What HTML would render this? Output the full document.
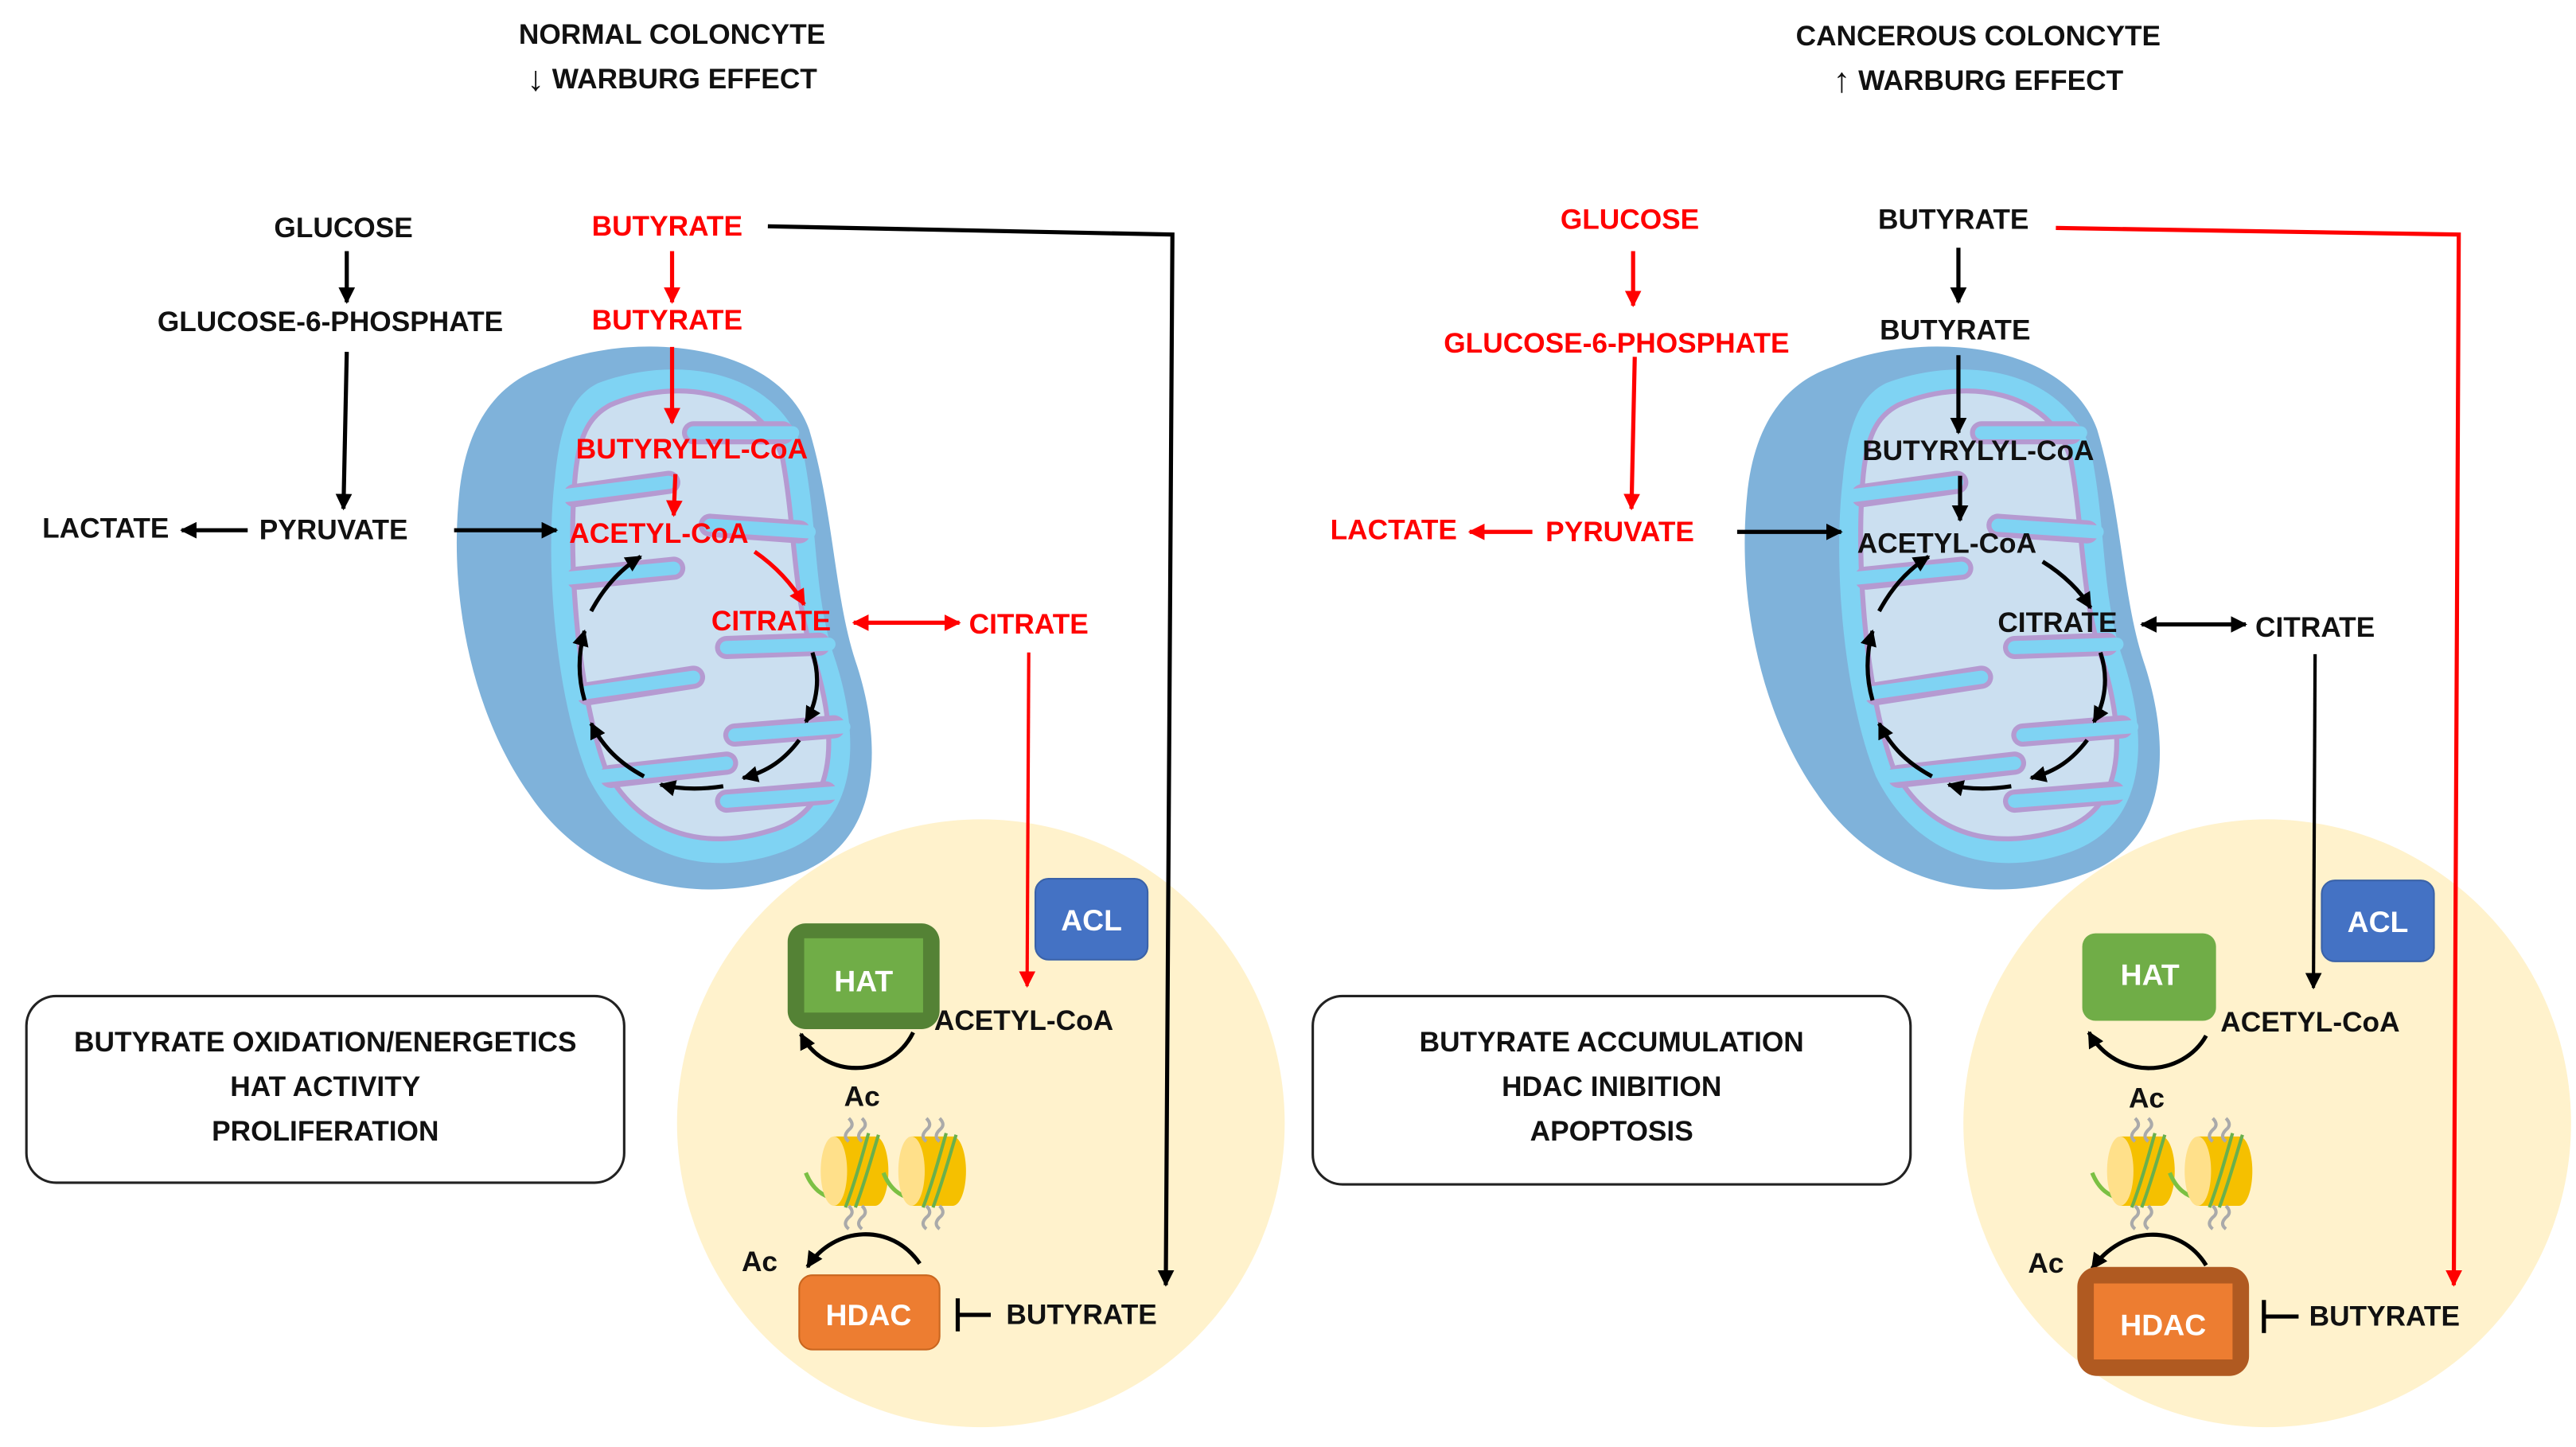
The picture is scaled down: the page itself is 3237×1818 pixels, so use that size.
<!DOCTYPE html>
<html><head><meta charset="utf-8"><style>
html,body{margin:0;padding:0;background:#fff;}
svg{display:block;}
text{font-family:"Liberation Sans",sans-serif;font-weight:bold;font-size:17px;text-anchor:middle;dominant-baseline:central;}
.r{fill:#ff0000;}
.k{fill:#111;}
.w{fill:#fff;font-size:18px;}
</style></head><body>
<svg width="3237" height="1818" viewBox="0 0 1560 876" preserveAspectRatio="none" xmlns="http://www.w3.org/2000/svg">
<defs>
<marker id="ak" viewBox="0 0 10 10" refX="9" refY="5" markerWidth="10" markerHeight="10" markerUnits="userSpaceOnUse" orient="auto-start-reverse"><path d="M0,0 L10,5 L0,10 Z" fill="#000"/></marker>
<marker id="ar" viewBox="0 0 10 10" refX="9" refY="5" markerWidth="10" markerHeight="10" markerUnits="userSpaceOnUse" orient="auto-start-reverse"><path d="M0,0 L10,5 L0,10 Z" fill="#f00"/></marker>
<g id="mito">
<path d="M330 222 C380 200,470 205,490 260 C505 310,505 360,518 400 C535 450,535 512,480 530 C430 548,360 540,320 480 C285 430,272 360,278 300 C282 258,300 232,330 222 Z" fill="#7fb2da"/>
<path d="M362 232 C410 214,470 224,486 272 C496 320,492 360,506 400 C522 450,520 502,470 517 C430 530,382 522,356 470 C336 420,330 340,336 290 C339 258,346 240,362 232 Z" fill="#7fd3f3"/>
<path d="M370 245 C410 228,462 236,474 278 C482 322,480 362,494 402 C508 450,506 492,466 503 C430 514,390 508,367 466 C350 420,344 342,348 292 C350 265,356 252,370 245 Z" fill="#cbdff0" stroke="#b59ad1" stroke-width="3"/>
<g fill="none" stroke-linecap="round">
<g stroke="#b59ad1" stroke-width="14">
<path d="M474 262 L420 262"/><path d="M348 300 L405 292"/><path d="M484 322 L430 318"/><path d="M350 350 L408 344"/><path d="M496 390 L440 392"/><path d="M356 420 L420 410"/><path d="M505 440 L445 445"/><path d="M370 470 L440 462"/><path d="M500 480 L440 485"/>
</g>
<g stroke="#7fd3f3" stroke-width="8">
<path d="M480 262 L420 262"/><path d="M342 300 L405 292"/><path d="M490 322 L430 318"/><path d="M344 350 L408 344"/><path d="M502 390 L440 392"/><path d="M350 420 L420 410"/><path d="M511 440 L445 445"/><path d="M364 470 L440 462"/><path d="M506 480 L440 485"/>
</g>
</g>
<g fill="none" stroke="#000" stroke-width="2.5" marker-end="url(#ak)">
<path d="M492 395 C497 410,495 425,488 437"/>
<path d="M484 448 C475 460,465 467,450 471"/>
<path d="M438 476 C425 478,412 478,400 475"/>
<path d="M390 470 C375 462,365 452,358 438"/>
<path d="M354 424 C350 410,350 396,354 382"/>
<path d="M358 370 C365 357,375 345,388 337"/>
</g>
</g>
<g id="nuc">
<path d="M488 710 C492 720,498 724,506 726" stroke="#7bc043" stroke-width="2.5" fill="none"/>
<path d="M505 688 L530 688 A8 21 0 0 1 530 730 L505 730 Z" fill="#f5c000"/>
<ellipse cx="505" cy="709" rx="8" ry="21" fill="#ffe08a"/>
<path d="M512 731 C518 715,522 700,526 686 M518 731 C524 715,528 700,532 687" stroke="#6ab04c" stroke-width="2" fill="none"/>
<path d="M514 677 q4 4 0 7 q-4 4 0 7 M522 677 q4 4 0 7 q-4 4 0 7 M514 730 q4 4 0 7 q-4 4 0 7 M522 730 q4 4 0 7 q-4 4 0 7" stroke="#aaa" stroke-width="2" fill="none"/>
</g>
</defs>

<!-- LEFT PANEL -->
<text x="407" y="21" class="k">NORMAL COLONCYTE</text>
<text x="407" y="48" class="k"><tspan font-size="21">↓</tspan> WARBURG EFFECT</text>

<circle cx="594" cy="680" r="184" fill="#fff2cc"/>
<use href="#mito"/>

<text x="208" y="138" class="k">GLUCOSE</text>
<line x1="210" y1="152" x2="210" y2="183" stroke="#000" stroke-width="2.5" marker-end="url(#ak)"/>
<text x="200" y="195" class="k">GLUCOSE-6-PHOSPHATE</text>
<line x1="210" y1="213" x2="208" y2="308" stroke="#000" stroke-width="2.5" marker-end="url(#ak)"/>
<text x="202" y="321" class="k">PYRUVATE</text>
<text x="64" y="320" class="k">LACTATE</text>
<line x1="150" y1="321" x2="110" y2="321" stroke="#000" stroke-width="2.5" marker-end="url(#ak)"/>
<line x1="275" y1="321" x2="337" y2="321" stroke="#000" stroke-width="2.5" marker-end="url(#ak)"/>

<text x="404" y="137" class="r">BUTYRATE</text>
<line x1="407" y1="152" x2="407" y2="183" stroke="#f00" stroke-width="2.5" marker-end="url(#ar)"/>
<text x="404" y="194" class="r">BUTYRATE</text>
<line x1="407" y1="210" x2="407" y2="256" stroke="#f00" stroke-width="2.5" marker-end="url(#ar)"/>
<text x="419" y="272" class="r">BUTYRYLYL-CoA</text>
<line x1="409" y1="287" x2="408" y2="312" stroke="#f00" stroke-width="2.5" marker-end="url(#ar)"/>
<text x="399" y="323" class="r">ACETYL-CoA</text>
<path d="M457 334 C470 343,480 354,487 366" stroke="#f00" stroke-width="2.5" fill="none" marker-end="url(#ar)"/>
<text x="467" y="376" class="r">CITRATE</text>
<line x1="517" y1="377" x2="581" y2="377" stroke="#f00" stroke-width="2.5" marker-start="url(#ar)" marker-end="url(#ar)"/>
<text x="623" y="378" class="r">CITRATE</text>
<line x1="623" y1="395" x2="622" y2="597" stroke="#f00" stroke-width="2" marker-end="url(#ar)"/>
<polyline points="465,137 710,142 706,778" fill="none" stroke="#000" stroke-width="2.5" marker-end="url(#ak)"/>

<rect x="627" y="532" width="68" height="49" rx="8" fill="#4472c4" stroke="#3a62a8" stroke-width="1"/>
<text x="661" y="557" class="w">ACL</text>
<rect x="477" y="559" width="92" height="64" rx="11" fill="#548235"/>
<rect x="487" y="568" width="72" height="45" fill="#70ad47"/>
<text x="523" y="594" class="w">HAT</text>
<text x="620" y="618" class="k">ACETYL-CoA</text>
<path d="M553 625 C540 652,500 655,485 626" stroke="#000" stroke-width="2.5" fill="none" marker-end="url(#ak)"/>
<text x="522" y="664" class="k">Ac</text>
<use href="#nuc"/>
<use href="#nuc" x="47"/>
<path d="M557 765 C540 740,505 742,489 767" stroke="#000" stroke-width="2.5" fill="none" marker-end="url(#ak)"/>
<text x="460" y="764" class="k">Ac</text>
<rect x="484" y="772" width="85" height="45" rx="8" fill="#ed7d31" stroke="#c9661f" stroke-width="1"/>
<text x="526" y="796" class="w">HDAC</text>
<line x1="580" y1="786" x2="580" y2="806" stroke="#000" stroke-width="2.5"/>
<line x1="580" y1="796" x2="600" y2="796" stroke="#000" stroke-width="2.5"/>
<text x="655" y="796" class="k">BUTYRATE</text>

<rect x="16" y="603" width="362" height="113" rx="18" fill="#fff" stroke="#222" stroke-width="1.5"/>
<text x="197" y="631" class="k">BUTYRATE OXIDATION/ENERGETICS</text>
<text x="197" y="658" class="k">HAT ACTIVITY</text>
<text x="197" y="685" class="k">PROLIFERATION</text>

<!-- RIGHT PANEL -->
<text x="1198" y="22" class="k">CANCEROUS COLONCYTE</text>
<text x="1198" y="49" class="k"><tspan font-size="21">↑</tspan> WARBURG EFFECT</text>

<circle cx="1373" cy="680" r="184" fill="#fff2cc"/>
<use href="#mito" x="780"/>

<text x="987" y="133" class="r">GLUCOSE</text>
<line x1="989" y1="152" x2="989" y2="185" stroke="#f00" stroke-width="2.5" marker-end="url(#ar)"/>
<text x="979" y="208" class="r">GLUCOSE-6-PHOSPHATE</text>
<line x1="990" y1="216" x2="988" y2="308" stroke="#f00" stroke-width="2.5" marker-end="url(#ar)"/>
<text x="981" y="322" class="r">PYRUVATE</text>
<text x="844" y="321" class="r">LACTATE</text>
<line x1="928" y1="322" x2="890" y2="322" stroke="#f00" stroke-width="2.5" marker-end="url(#ar)"/>
<line x1="1052" y1="322" x2="1115" y2="322" stroke="#000" stroke-width="2.5" marker-end="url(#ak)"/>

<text x="1183" y="133" class="k">BUTYRATE</text>
<line x1="1186" y1="150" x2="1186" y2="183" stroke="#000" stroke-width="2.5" marker-end="url(#ak)"/>
<text x="1184" y="200" class="k">BUTYRATE</text>
<line x1="1186" y1="215" x2="1186" y2="262" stroke="#000" stroke-width="2.5" marker-end="url(#ak)"/>
<text x="1198" y="273" class="k">BUTYRYLYL-CoA</text>
<line x1="1187" y1="288" x2="1187" y2="315" stroke="#000" stroke-width="2.5" marker-end="url(#ak)"/>
<text x="1179" y="329" class="k">ACETYL-CoA</text>
<path d="M1237 340 C1250 348,1260 358,1266 368" stroke="#000" stroke-width="2.5" fill="none" marker-end="url(#ak)"/>
<text x="1246" y="377" class="k">CITRATE</text>
<line x1="1297" y1="378" x2="1360" y2="378" stroke="#000" stroke-width="2.5" marker-start="url(#ak)" marker-end="url(#ak)"/>
<text x="1402" y="380" class="k">CITRATE</text>
<line x1="1402" y1="396" x2="1401" y2="598" stroke="#000" stroke-width="2" marker-end="url(#ak)"/>
<polyline points="1245,138 1489,142 1486,778" fill="none" stroke="#f00" stroke-width="2.5" marker-end="url(#ar)"/>

<rect x="1406" y="533" width="68" height="49" rx="8" fill="#4472c4" stroke="#3a62a8" stroke-width="1"/>
<text x="1440" y="558" class="w">ACL</text>
<rect x="1261" y="565" width="81" height="53" rx="8" fill="#70ad47"/>
<text x="1302" y="590" class="w">HAT</text>
<text x="1399" y="619" class="k">ACETYL-CoA</text>
<path d="M1336 627 C1322 652,1282 655,1265 625" stroke="#000" stroke-width="2.5" fill="none" marker-end="url(#ak)"/>
<text x="1300" y="665" class="k">Ac</text>
<use href="#nuc" x="779"/>
<use href="#nuc" x="826"/>
<path d="M1336 766 C1320 740,1285 742,1267 768" stroke="#000" stroke-width="2.5" fill="none" marker-end="url(#ak)"/>
<text x="1239" y="765" class="k">Ac</text>
<rect x="1258" y="767" width="104" height="66" rx="12" fill="#b05a21"/>
<rect x="1268" y="777" width="84" height="46" fill="#ed7d31"/>
<text x="1310" y="802" class="w">HDAC</text>
<line x1="1371" y1="787" x2="1371" y2="807" stroke="#000" stroke-width="2.5"/>
<line x1="1371" y1="797" x2="1392" y2="797" stroke="#000" stroke-width="2.5"/>
<text x="1444" y="797" class="k">BUTYRATE</text>

<rect x="795" y="603" width="362" height="114" rx="18" fill="#fff" stroke="#222" stroke-width="1.5"/>
<text x="976" y="631" class="k">BUTYRATE ACCUMULATION</text>
<text x="976" y="658" class="k">HDAC INIBITION</text>
<text x="976" y="685" class="k">APOPTOSIS</text>
</svg>
</body></html>
